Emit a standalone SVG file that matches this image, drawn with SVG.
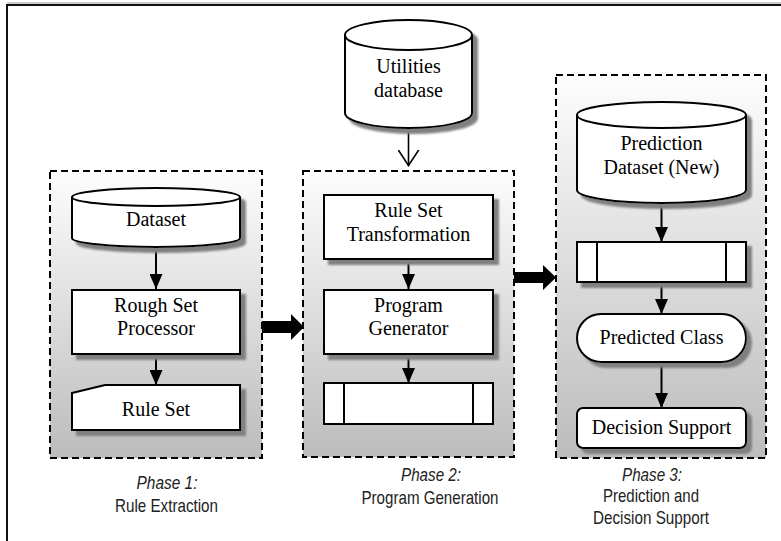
<svg xmlns="http://www.w3.org/2000/svg" width="781" height="541" viewBox="0 0 781 541">
  <style>
    .phase { stroke: #000; stroke-width: 2; stroke-dasharray: 7 4; fill: url(#phaseFill); }
    .shape { fill: #fff; stroke: #000; stroke-width: 2; }
    .plain { fill: none; stroke: #000; stroke-width: 2; }
    .node text { font-family: "Liberation Serif", "Times New Roman", serif; font-size: 20px; fill: #000; text-anchor: middle; }
    .cap text { font-family: "Liberation Sans", Arial, sans-serif; font-size: 19px; fill: #222; text-anchor: middle; }
    .cap .ital { font-style: italic; }
    .flow { stroke: #000; stroke-width: 2; fill: none; marker-end: url(#head); }
    .block { fill: #000; }
  </style>
  <defs>
    <linearGradient id="phaseFill" x1="0" y1="0" x2="0" y2="1">
      <stop offset="0" stop-color="#fdfdfd"/>
      <stop offset="1" stop-color="#bcbcbc"/>
    </linearGradient>
    <filter id="drop" x="-10%" y="-10%" width="130%" height="140%">
      <feGaussianBlur in="SourceAlpha" stdDeviation="0.8" result="b"/>
      <feOffset in="b" dx="5" dy="5" result="o"/>
      <feFlood flood-color="#808080"/>
      <feComposite in2="o" operator="in" result="s"/>
      <feMerge>
        <feMergeNode in="s"/>
        <feMergeNode in="SourceGraphic"/>
      </feMerge>
    </filter>
    <marker id="head" viewBox="0 0 15 13" refX="15" refY="6.5" markerWidth="15" markerHeight="13" markerUnits="userSpaceOnUse" orient="auto">
      <path d="M0,0 L15,6.5 L0,13 Z" fill="#000"/>
    </marker>
    <marker id="vee" viewBox="0 0 17 22" refX="16.5" refY="11" markerWidth="17" markerHeight="22" markerUnits="userSpaceOnUse" orient="auto">
      <path d="M0,0.5 L16,11 L0,21.5" fill="none" stroke="#000" stroke-width="1.6"/>
    </marker>
  </defs>

  <rect width="781" height="541" fill="#fff"/>
  <!-- outer frame -->
  <line x1="7" y1="3" x2="781" y2="3" stroke="#9a9a9a" stroke-width="1"/>
  <path d="M7,541 V5 H781" fill="none" stroke="#111" stroke-width="2"/>

  <!-- phase containers -->
  <g id="phase1">
    <rect class="phase" x="50" y="171" width="212" height="287"/>
  </g>
  <g id="phase2">
    <rect class="phase" x="303" y="171" width="211" height="286"/>
  </g>
  <g id="phase3">
    <rect class="phase" x="556" y="75" width="210" height="383"/>
  </g>

  <!-- connectors -->
  <g id="connectors">
    <line class="flow" x1="156" y1="247" x2="156" y2="289"/>
    <line class="flow" x1="156" y1="354" x2="156" y2="385"/>
    <line class="flow" x1="408.5" y1="259" x2="408.5" y2="289"/>
    <line class="flow" x1="408.5" y1="354" x2="408.5" y2="383"/>
    <line x1="408.5" y1="128" x2="408.5" y2="166" stroke="#000" stroke-width="1.6" marker-end="url(#vee)"/>
    <line class="flow" x1="661.5" y1="203" x2="661.5" y2="242"/>
    <line class="flow" x1="661.5" y1="282" x2="661.5" y2="314"/>
    <line class="flow" x1="661.5" y1="362" x2="661.5" y2="408"/>
    <polygon class="block" points="262,321 291,321 291,314 304,327 291,340 291,333 262,333"/>
    <polygon class="block" points="514,272 543,272 543,265 556,277.5 543,290 543,283 514,283"/>
  </g>

  <!-- phase 1 nodes -->
  <g id="dataset" class="node">
    <path class="shape" filter="url(#drop)" d="M72,197 A84,9 0 0 1 240,197 V238 A84,9 0 0 1 72,238 Z"/>
    <path class="plain" d="M72,197 A84,9 0 0 0 240,197"/>
    <text x="156" y="226">Dataset</text>
  </g>
  <g id="rough-set-processor" class="node">
    <rect class="shape" filter="url(#drop)" x="72" y="290" width="168" height="64"/>
    <text x="156" y="312">Rough Set</text>
    <text x="156" y="335">Processor</text>
  </g>
  <g id="rule-set" class="node">
    <path class="shape" filter="url(#drop)" d="M72,393 L105,385 H240 V430 H72 Z"/>
    <text x="156" y="416">Rule Set</text>
  </g>

  <!-- phase 2 nodes -->
  <g id="utilities-database" class="node">
    <path class="shape" filter="url(#drop)" d="M345,35 A63.5,15 0 0 1 472,35 V113 A63.5,15 0 0 1 345,113 Z"/>
    <path class="plain" d="M345,35 A63.5,15 0 0 0 472,35"/>
    <text x="408.5" y="73">Utilities</text>
    <text x="408.5" y="97">database</text>
  </g>
  <g id="rule-set-transformation" class="node">
    <rect class="shape" filter="url(#drop)" x="324" y="195" width="169" height="64"/>
    <text x="408.5" y="217">Rule Set</text>
    <text x="408.5" y="241">Transformation</text>
  </g>
  <g id="program-generator" class="node">
    <rect class="shape" filter="url(#drop)" x="324" y="290" width="169" height="64"/>
    <text x="408.5" y="312">Program</text>
    <text x="408.5" y="335">Generator</text>
  </g>
  <g id="generated-program" class="node">
    <rect class="shape" x="324" y="383" width="169" height="41"/>
    <line class="plain" x1="344" y1="383" x2="344" y2="424"/>
    <line class="plain" x1="473" y1="383" x2="473" y2="424"/>
  </g>

  <!-- phase 3 nodes -->
  <g id="prediction-dataset" class="node">
    <path class="shape" filter="url(#drop)" d="M577,115 A84.5,13 0 0 1 746,115 V190 A84.5,13 0 0 1 577,190 Z"/>
    <path class="plain" d="M577,115 A84.5,13 0 0 0 746,115"/>
    <text x="661.5" y="150">Prediction</text>
    <text x="661.5" y="174">Dataset (New)</text>
  </g>
  <g id="prediction-program" class="node">
    <rect class="shape" filter="url(#drop)" x="577" y="242" width="169" height="40"/>
    <line class="plain" x1="597" y1="242" x2="597" y2="282"/>
    <line class="plain" x1="726" y1="242" x2="726" y2="282"/>
  </g>
  <g id="predicted-class" class="node">
    <rect class="shape" filter="url(#drop)" x="577" y="314" width="169" height="48" rx="24" ry="24"/>
    <text x="661.5" y="344">Predicted Class</text>
  </g>
  <g id="decision-support" class="node">
    <rect class="shape" filter="url(#drop)" x="577" y="408" width="169" height="40" rx="6" ry="6"/>
    <text x="661.5" y="434">Decision Support</text>
  </g>

  <!-- phase captions -->
  <g id="caption1" class="cap">
    <text class="ital" x="167" y="489" textLength="61" lengthAdjust="spacingAndGlyphs">Phase 1:</text>
    <text x="166.5" y="512" textLength="103" lengthAdjust="spacingAndGlyphs">Rule Extraction</text>
  </g>
  <g id="caption2" class="cap">
    <text class="ital" x="431" y="481" textLength="60" lengthAdjust="spacingAndGlyphs">Phase 2:</text>
    <text x="430" y="504" textLength="137" lengthAdjust="spacingAndGlyphs">Program Generation</text>
  </g>
  <g id="caption3" class="cap">
    <text class="ital" x="652" y="481" textLength="60" lengthAdjust="spacingAndGlyphs">Phase 3:</text>
    <text x="651" y="502" textLength="96" lengthAdjust="spacingAndGlyphs">Prediction and</text>
    <text x="651" y="524" textLength="116" lengthAdjust="spacingAndGlyphs">Decision Support</text>
  </g>
</svg>
